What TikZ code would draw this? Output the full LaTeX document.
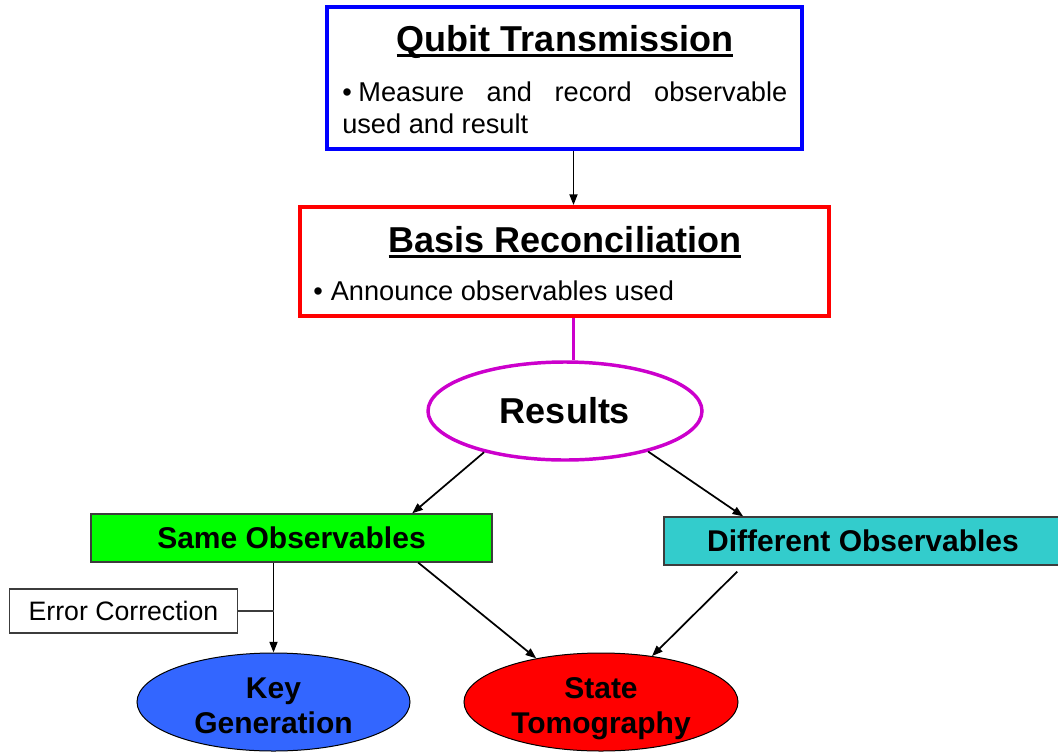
\documentclass[tikz,border=0pt]{standalone}
\usepackage{fontspec}
\setmainfont{Liberation Sans}
\usetikzlibrary{shapes.geometric,arrows.meta,calc}

\definecolor{qtblue}{RGB}{0,0,255}
\definecolor{bcred}{RGB}{255,0,0}
\definecolor{resmag}{RGB}{204,0,204}
\definecolor{samegreen}{RGB}{0,255,0}
\definecolor{diffcyan}{RGB}{51,204,204}
\definecolor{keyblue}{RGB}{51,102,255}
\definecolor{tomored}{RGB}{255,0,0}
\definecolor{edgegray}{RGB}{60,60,60}

\tikzset{
  stagebox/.style={draw, line width=3pt, fill=white, inner sep=0pt},
  titletext/.style={inner sep=0pt, font=\fontsize{27}{32}\selectfont\bfseries},
  bodytext/.style={inner sep=0pt, anchor=base west, font=\fontsize{20.4}{24}\selectfont},
  uline/.style={line width=2.4pt},
  obsbox/.style={draw=edgegray, line width=0.9pt, inner sep=0pt,
    font=\fontsize{22.5}{26}\selectfont\bfseries},
  notebox/.style={draw=edgegray, line width=0.9pt, fill=white, inner sep=0pt,
    font=\fontsize{20}{24}\selectfont},
  outcome/.style={ellipse, draw=black, line width=0.75pt, inner sep=0pt},
  outcometext/.style={inner sep=0pt, anchor=base,
    font=\fontsize{22.5}{26.25}\selectfont\bfseries},
  conn/.style={line width=1.3pt, -{Triangle[length=8pt,width=6pt]}},
  magline/.style={draw=resmag, line width=2.6pt},
  thinline/.style={draw=edgegray, line width=0.9pt}
}

\begin{document}
\begin{tikzpicture}[x=0.75pt,y=-0.75pt]
\useasboundingbox (0,0) rectangle (1058,751);

% Stage 1: qubit transmission
\node[stagebox, draw=qtblue, minimum width=356.25pt, minimum height=106.5pt] (qt) at (564.5,78) {};
\node[titletext, anchor=base] (qtt) at (565,51) {Qubit Transmission};
\draw[uline] ([yshift=-3.6pt]qtt.base west) -- ([yshift=-3.6pt]qtt.base east);
\node[bodytext] (qtb1) at (342,101)
  {\makebox[333.75pt][s]{\textbullet\kern5pt Measure and record observable}};
\node[bodytext] (qtb2) at (342,133) {used and result};

% Stage 2: basis reconciliation
\node[stagebox, draw=bcred, minimum width=396.75pt, minimum height=81.75pt] (bc) at (564.5,261.5) {};
\node[titletext, anchor=base] (bct) at (565,252) {Basis Reconciliation};
\draw[uline] ([yshift=-3.6pt]bct.base west) -- ([yshift=-3.6pt]bct.base east);
\node[bodytext] (bcb) at (313,300) {\textbullet\kern6pt Announce observables used};

% Results
\node[ellipse, draw=resmag, line width=2.6pt, fill=white, inner sep=0pt,
  minimum width=205.5pt, minimum height=73.5pt,
  font=\fontsize{27}{32}\selectfont\bfseries] (res) at (565,411) {Results};

% Branches
\node[obsbox, fill=samegreen, minimum width=300.75pt, minimum height=36pt] (same) at (291.5,538) {Same Observables};
\node[obsbox, fill=diffcyan, minimum width=298.5pt, minimum height=36pt] (diff) at (863,541) {Different Observables};
\node[notebox, minimum width=171pt, minimum height=33pt] (ec) at (123.5,611) {Error Correction};

% Outcomes
\node[outcome, fill=keyblue, minimum width=204.75pt, minimum height=73.5pt] (kg) at (273.5,702) {};
\node[outcometext] (kg1) at (273.5,698) {Key};
\node[outcometext] (kg2) at (273.5,733) {Generation};
\node[outcome, fill=tomored, minimum width=205.5pt, minimum height=73.5pt] (st) at (601,702) {};
\node[outcometext] (st1) at (601,698) {State};
\node[outcometext] (st2) at (601,733) {Tomography};

% Connectors
\coordinate (spine) at (573.5,0);
\draw[conn] (qt.south -| spine) -- (bc.north -| spine);
\draw[magline] (bc.south -| spine) -- (res.north -| spine);
\draw[conn] (res.207) -- ($(same.north west)!0.8!(same.north east)$);
\draw[conn] (res.334) -- ($(diff.north west)!0.2!(diff.north east)$);
\draw[conn] (kg.north |- same.south) -- (kg.north);
\draw[thinline] (ec.east) -- (ec.east -| kg.north);
\draw[conn] ($(same.south west)!0.815!(same.south east)$) -- (st.146);
\draw[conn] ([yshift=-4.5pt]$(diff.south west)!0.185!(diff.south east)$) -- (st.42);
\end{tikzpicture}
\end{document}
